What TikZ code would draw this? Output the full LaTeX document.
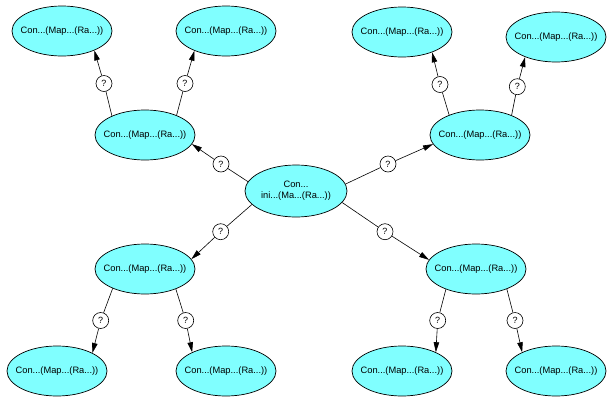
\documentclass[tikz,border=0pt]{standalone}
\usepackage{fontspec}
\setmainfont{Liberation Sans}
\usetikzlibrary{shapes.geometric,arrows.meta}
\definecolor{entfill}{RGB}{128,255,255}
\tikzset{
  ent/.style={ellipse, draw=black, line width=0.7pt, fill=entfill, minimum width=100pt, minimum height=50pt, inner xsep=-20pt, inner ysep=-8pt, font=\fontsize{9.3}{11}\selectfont, align=center},
  qm/.style={circle, draw=black, line width=0.6pt, fill=white, minimum size=16pt, inner sep=0pt, font=\fontsize{9}{10}\selectfont},
  ln/.style={draw=black, line width=0.6pt},
  arr/.style={ln, -{Triangle[length=10pt,width=5.5pt]}}
}
\begin{document}
\begin{tikzpicture}[x=1pt,y=-1pt]
\useasboundingbox (0,0) rectangle (614,405);
\node[ent, minimum width=102pt, minimum height=52pt] (c) at (296,191) {Con...\\ini...(Ma...(Ra...))};
\node[ent] (ml1) at (145,135) {Con...(Map...(Ra...))};
\node[ent] (tl1) at (62,31) {Con...(Map...(Ra...))};
\node[ent] (tl2) at (226,31) {Con...(Map...(Ra...))};
\node[ent] (mr1) at (480,135) {Con...(Map...(Ra...))};
\node[ent] (tr1) at (402,32) {Con...(Map...(Ra...))};
\node[ent] (tr2) at (556,37) {Con...(Map...(Ra...))};
\node[ent] (ml2) at (145,269) {Con...(Map...(Ra...))};
\node[ent] (bl1) at (57,371) {Con...(Map...(Ra...))};
\node[ent] (bl2) at (226,371) {Con...(Map...(Ra...))};
\node[ent] (mr2) at (476,269) {Con...(Map...(Ra...))};
\node[ent] (br1) at (402,371) {Con...(Map...(Ra...))};
\node[ent] (br2) at (556,371) {Con...(Map...(Ra...))};

\node[qm] (q1) at (221,164) {?};
\node[qm] (q2) at (388,164) {?};
\node[qm] (q3) at (220.7,231.7) {?};
\node[qm] (q4) at (385,231.7) {?};
\node[qm] (q5) at (104,83.5) {?};
\node[qm] (q6) at (185,83.5) {?};
\node[qm] (q7) at (440,84.5) {?};
\node[qm] (q8) at (517.3,86.7) {?};
\node[qm] (q9) at (100.7,320.5) {?};
\node[qm] (q10) at (185.7,320.5) {?};
\node[qm] (q11) at (437.7,320.5) {?};
\node[qm] (q12) at (515,320.5) {?};

\draw[ln] (c.169.6) -- (q1); \draw[arr] (q1) -- (ml1.-11);
\draw[ln] (c.8.6) -- (q2); \draw[arr] (q2) -- (mr1.191.7);
\draw[ln] (c.197.5) -- (q3); \draw[arr] (q3) -- (ml2.12.9);
\draw[ln] (c.-14.6) -- (q4); \draw[arr] (q4) -- (mr2.169.3);
\draw[ln] (ml1.150.6) -- (q5); \draw[arr] (q5) -- (tl1.-31.7);
\draw[ln] (ml1.32) -- (q6); \draw[arr] (q6) -- (tl2.212.5);
\draw[ln] (mr1.147.8) -- (q7); \draw[arr] (q7) -- (tr1.-34.2);
\draw[ln] (mr1.32.2) -- (q8); \draw[arr] (q8) -- (tr2.213.1);
\draw[ln] (ml2.211.5) -- (q9); \draw[arr] (q9) -- (bl1.27);
\draw[ln] (ml2.-33) -- (q10); \draw[arr] (q10) -- (bl2.151);
\draw[ln] (mr2.214) -- (q11); \draw[arr] (q11) -- (br1.29.5);
\draw[ln] (mr2.-33) -- (q12); \draw[arr] (q12) -- (br2.151.6);
\end{tikzpicture}
\end{document}
